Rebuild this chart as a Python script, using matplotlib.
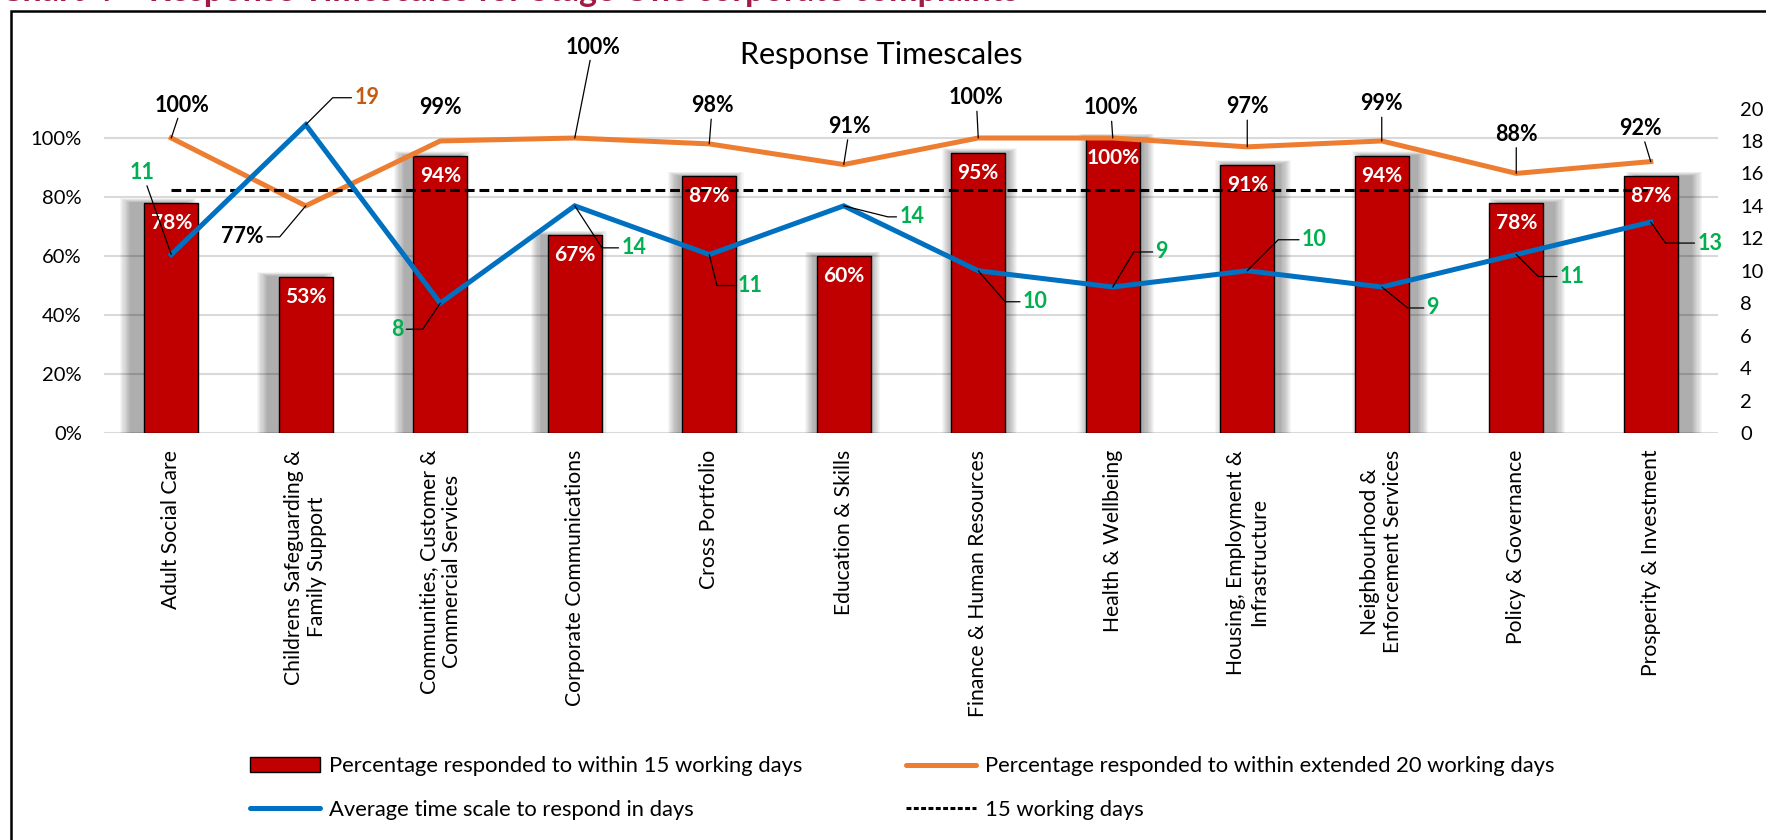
import matplotlib
matplotlib.use("Agg")
import matplotlib.pyplot as plt
from matplotlib.patches import Patch, Rectangle
from matplotlib.lines import Line2D
import numpy as np

# data
categories = [
    "Adult Social Care",
    "Childrens Safeguarding &\nFamily Support",
    "Communities, Customer &\nCommercial Services",
    "Corporate Communications",
    "Cross Portfolio",
    "Education & Skills",
    "Finance & Human Resources",
    "Health & Wellbeing",
    "Housing, Employment &\nInfrastructure",
    "Neighbourhood &\nEnforcement Services",
    "Policy & Governance",
    "Prosperity & Investment",
]
pct_15_days = [78, 53, 94, 67, 87, 60, 95, 100, 91, 94, 78, 87]
pct_20_days = [100, 77, 99, 100, 98, 91, 100, 100, 97, 99, 88, 92]
avg_days = [11, 19, 8, 14, 11, 14, 10, 9, 10, 9, 11, 13]
target_days = 15

# label placement (pixel offsets from the point, leader style)
orange_off = [(11, 33), (-63, -31), (0, 33), (18, 91), (3, 38), (6, 38),
              (-2, 40), (-2, 30), (0, 40), (0, 37), (0, 39), (-10, 33)]
orange_lead = ["line", 50, None, "line", "line", "line",
               "line", "line", "line", "line", "line", "line"]
blue_off = [(-29, 82), (61, 27), (-43, -26), (59, -42), (41, -31), (68, -11),
            (57, -31), (49, 35), (67, 31), (51, -21), (56, -22), (59, -21)]
blue_lead = ["line", 45, 56, -57, -76, -14, -49, 59, 45, -39, -45, -55]

BAR_RED = "#C00000"
ORANGE = "#ED7D31"
BLUE = "#0070C0"
GREEN = "#00B050"

plt.rcParams["font.family"] = ["Lato", "DejaVu Sans"]

W, H = 1766, 840
fig = plt.figure(figsize=(W / 100, H / 100), dpi=100)
ax = fig.add_axes([104 / W, 1 - 433 / H, (1718 - 104) / W, (433 - 108.5) / H])
ax2 = ax.twinx()

x = np.arange(len(categories))
bw = 0.4

# soft bar shadows, pushed outwards from the middle
px_x = 1 / 134.5
px_y = 1.1 / 324.5
for i, v in enumerate(pct_15_days):
    dx = (i - 5.5) * 2.4 * px_x
    for k in range(10):
        e = 11 * (k + 1) / 10
        ax.add_patch(Rectangle((i - bw / 2 + dx - e * px_x, 0),
                               bw + 2 * e * px_x, v / 100 + e * 0.4 * px_y,
                               facecolor="black", alpha=0.036, lw=0, zorder=1))

ax.bar(x, np.array(pct_15_days) / 100, width=bw, color=BAR_RED,
       edgecolor="black", linewidth=1, zorder=2)
ax.plot(x, np.array(pct_20_days) / 100, color=ORANGE, lw=3.6, zorder=3,
        solid_joinstyle="miter")

ax2.plot(x, avg_days, color=BLUE, lw=3.6, zorder=3, solid_joinstyle="miter")
ax2.plot(x, [target_days] * len(x), color="black", lw=2.2,
         linestyle=(0, (3.2, 1.6)), zorder=2)

ax.set_xlim(-0.5, len(x) - 0.5)
ax.set_ylim(0, 1.1)
ax.set_yticks(np.arange(0, 1.01, 0.2))
ax.set_yticklabels([f"{int(t * 100)}%" for t in np.arange(0, 1.01, 0.2)])
ax2.set_ylim(0, 20)
ax2.set_yticks(range(0, 21, 2))

ax.grid(axis="y", color="#D9D9D9", lw=1.5, zorder=0)
ax.set_axisbelow(True)
for a in (ax, ax2):
    for s in a.spines.values():
        s.set_visible(False)
ax.tick_params(axis="y", length=0, pad=16, labelsize=14.5)
ax2.tick_params(axis="y", length=0, pad=16, labelsize=14.5)
ax.tick_params(axis="x", length=0, pad=12)
ax.set_xticks(x)
ax.set_xticklabels(categories, rotation=90, ha="center", va="top",
                   multialignment="center", fontsize=15.2)


def label(txt, xy, off, lead, color, trans):
    if lead is None:
        props = None
    elif lead == "line":
        props = dict(arrowstyle="-", color="black", lw=0.9,
                     shrinkA=0, shrinkB=0)
    else:
        props = dict(arrowstyle="-", color="black", lw=0.9, shrinkA=0,
                     shrinkB=0,
                     connectionstyle=f"angle,angleA=0,angleB={lead},rad=0")
    ax2.annotate(txt, xy=xy, xycoords=trans, xytext=off,
                 textcoords="offset pixels", ha="center", va="center",
                 fontsize=15.5, fontweight="bold", color=color,
                 arrowprops=props, zorder=6)


for i, v in enumerate(pct_15_days):
    ax2.annotate(f"{v}%", xy=(i, v / 100), xycoords=ax.transData,
                 xytext=(0, -20), textcoords="offset pixels",
                 ha="center", va="center", fontsize=15,
                 fontweight="bold", color="white", zorder=6)

for i, v in enumerate(pct_20_days):
    label(f"{v}%", (i, v / 100), orange_off[i], orange_lead[i], "black",
          ax.transData)

for i, v in enumerate(avg_days):
    col = "#C55A11" if v == max(avg_days) else GREEN
    label(f"{v}", (i, v), blue_off[i], blue_lead[i], col, ax2.transData)

fig.text(881 / W, 1 - 55 / H, "Response Timescales", ha="center",
         va="center", fontsize=22)

# legend, two single-column blocks
leg_kw = dict(frameon=False, fontsize=15.8, handlelength=3.2,
              handletextpad=0.4, labelspacing=1.05, borderpad=0,
              borderaxespad=0, loc="center left")
l1 = fig.legend([Patch(facecolor=BAR_RED, edgecolor="black"),
                 Line2D([], [], color=BLUE, lw=3.6, solid_capstyle="round")],
                ["Percentage responded to within 15 working days",
                 "Average time scale to respond in days"],
                bbox_to_anchor=(250 / W, 1 - 788 / H), **leg_kw)
l2 = fig.legend([Line2D([], [], color=ORANGE, lw=3.6, solid_capstyle="round"),
                 Line2D([], [], color="black", lw=2.2,
                        linestyle=(0, (1.6, 0.8)))],
                ["Percentage responded to within extended 20 working days",
                 "15 working days"],
                bbox_to_anchor=(906 / W, 1 - 788 / H), **leg_kw)

# outer chart frame, runs off the right and bottom edges
fig.add_artist(Rectangle((11 / W, -0.1), 2, 1.1 - 11 / H, fill=False,
                         ec="black", lw=1.8, transform=fig.transFigure))
# clipped heading above the chart
fig.text(0.0, 1 - 1 / H,
         "Chart 4 \u2013 Response Timescales for Stage One corporate complaints",
         ha="left", va="baseline", fontsize=24.5, fontweight="bold",
         color="#A01C44")

fig.savefig("out.png", dpi=100)
